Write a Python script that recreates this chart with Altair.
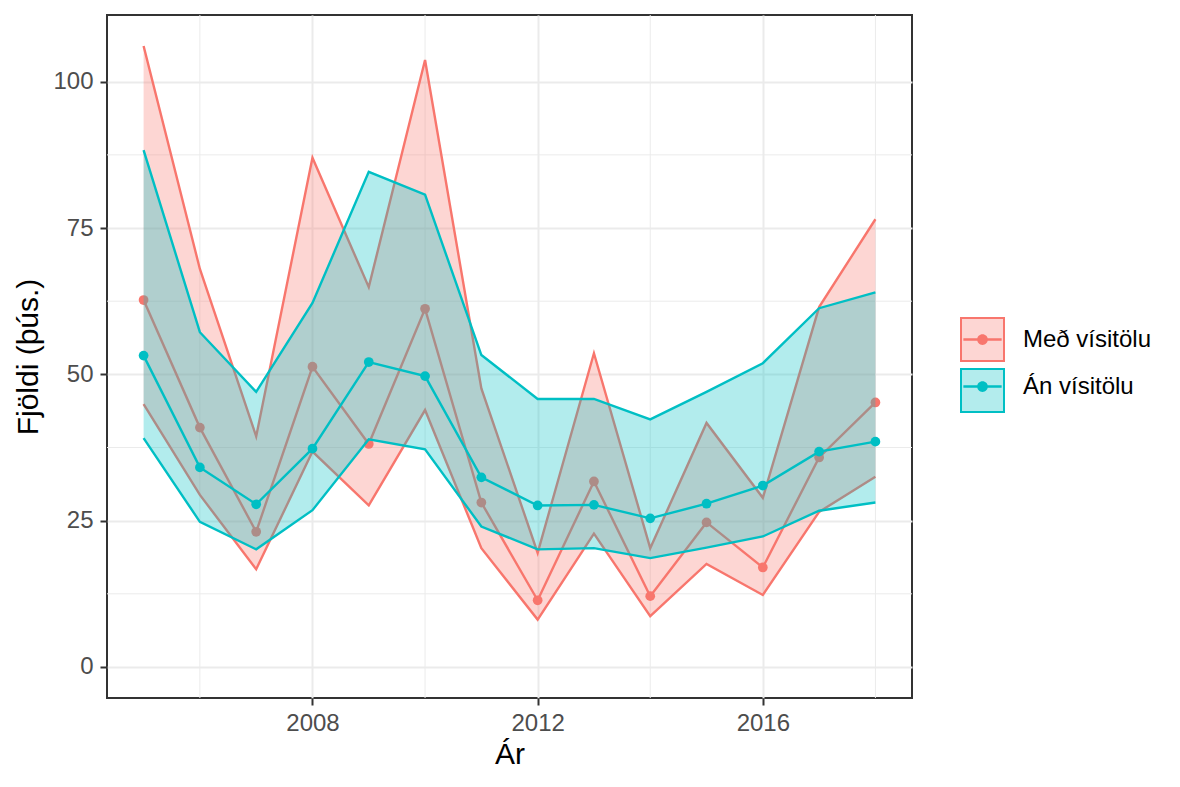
import altair as alt
import pandas as pd

# ---------------- data ----------------
years = list(range(2005, 2019))
groups = ["Með vísitölu", "Án vísitölu"]

med_upper = [106.1, 68.0, 39.4, 87.0, 64.9, 103.7, 47.6, 19.5, 53.6, 20.3, 41.7, 28.9, 61.5, 76.5]
med_mid = [62.7, 40.9, 23.1, 51.3, 38.1, 61.2, 28.1, 11.4, 31.7, 12.1, 24.7, 17.0, 35.8, 45.2]
med_lower = [44.9, 29.4, 16.7, 36.8, 27.6, 43.9, 20.3, 8.1, 22.8, 8.7, 17.6, 12.3, 26.5, 32.5]

an_upper = [88.3, 57.2, 47.0, 62.2, 84.6, 80.7, 53.3, 45.8, 45.8, 42.3, 47.0, 51.9, 61.3, 64.0]
an_mid = [53.2, 34.1, 27.8, 37.3, 52.1, 49.7, 32.4, 27.6, 27.7, 25.4, 27.9, 31.0, 36.8, 38.5]
an_lower = [39.1, 24.8, 20.1, 26.8, 38.9, 37.2, 24.0, 20.1, 20.3, 18.6, 20.4, 22.3, 26.7, 28.1]

x_major = [2008, 2012, 2016]
x_minor = [2006, 2010, 2014, 2018]
y_major = [0, 25, 50, 75, 100]
y_minor = [12.5, 37.5, 62.5, 87.5]

rows = []
for g, lo, mid, hi in [(groups[0], med_lower, med_mid, med_upper),
                       (groups[1], an_lower, an_mid, an_upper)]:
    for i, yr in enumerate(years):
        rows.append({"year": yr, "grp": g, "lo": lo[i], "mid": mid[i], "hi": hi[i]})
df = pd.DataFrame(rows)

# ---------------- styles ----------------
RED, TEAL = "#F8766D", "#00BFC4"
RED_L, TEAL_L = "#FDD6D3", "#B3ECED"
COLORS = {groups[0]: RED, groups[1]: TEAL}
FONT = "Liberation Sans"
GRID = "#EBEBEB"
LW = 2.4

xscale = alt.Scale(domain=[2004.35, 2018.65], nice=False, zero=False)
yscale = alt.Scale(domain=[-5.3, 111.4], nice=False, zero=False)
cscale = alt.Scale(range=[RED, TEAL])

xaxis = alt.Axis(values=x_major, format="d", labelPadding=6, titlePadding=4)
yaxis = alt.Axis(values=y_major, labelPadding=7, titlePadding=9)
XT = "Ár"
YT = "Fjöldi (þús.)"


def X(field):
    return alt.X(field, type="quantitative", scale=xscale, axis=xaxis, title=XT)


def Y(field):
    return alt.Y(field, type="quantitative", scale=yscale, axis=yaxis, title=YT)


legend_common = dict(
    orient="none", legendX=853, legendY=302, title=None, padding=0,
    symbolSize=1849, rowPadding=0, labelOffset=18, labelFontSize=24,
    labelFont=FONT, labelColor="black", symbolStrokeWidth=2, symbolOpacity=1,
)

# legend with line + dot (drawn on top); the two zero-length segments at the
# corners only give the symbol the same bounds as the key box
dot_path = ("M-1.047,-1.047L-1.047,-1.047M1.047,1.047L1.047,1.047 "
            "M-0.89,-0.055H0.89V0.055H-0.89Z "
            "M0.25,0A0.25,0.25 0 1 1 -0.25,0A0.25,0.25 0 1 1 0.25,0Z")
legend_b = alt.Legend(symbolType=dot_path, zindex=2, **legend_common)
# legend with the filled key box (below)
legend_a = alt.Legend(symbolType="square", labelExpr="''", zindex=1, **legend_common)

# ---------------- layers ----------------
minor_x = alt.Chart(pd.DataFrame({"v": x_minor})).mark_rule(color=GRID, strokeWidth=1).encode(x=X("v"))
minor_y = alt.Chart(pd.DataFrame({"v": y_minor})).mark_rule(color=GRID, strokeWidth=1).encode(y=Y("v"))

key_layer = alt.Chart(df).transform_filter("false").mark_point(
    shape="square", filled=True, strokeWidth=2, opacity=1
).encode(
    fill=alt.Fill("grp:N", scale=alt.Scale(domain=groups, range=[RED_L, TEAL_L]), legend=legend_a),
    stroke=alt.Stroke("grp:N", scale=alt.Scale(domain=groups, range=[RED, TEAL]), legend=legend_a),
)

layers = [minor_x, minor_y, key_layer]
for g in groups:
    base = alt.Chart(df).transform_filter(alt.datum.grp == g)
    area = base.mark_area(opacity=0.3, color=COLORS[g]).encode(x=X("year"), y=Y("lo"), y2="hi:Q")
    layers.append(area)
    for c in ["lo", "hi", "mid"]:
        layers.append(base.mark_line(strokeWidth=LW, color=COLORS[g]).encode(x=X("year"), y=Y(c)))
    pts = base.mark_point(filled=True, size=95, opacity=1).encode(
        x=X("year"), y=Y("mid"),
        color=alt.Color("grp:N", scale=cscale, legend=legend_b),
    )
    layers.append(pts)

chart = alt.layer(*layers).properties(
    width=805, height=683,
    autosize=alt.AutoSizeParams(type="none"),
    padding={"left": 99, "top": 7, "right": 250, "bottom": 80},
).configure(font=FONT).configure_view(
    stroke="#333333", strokeWidth=2
).configure_axis(
    labelFontSize=24, labelColor="#4D4D4D", labelFont=FONT,
    tickColor="#333333", tickWidth=2, tickSize=7, domain=False,
    grid=True, gridColor=GRID, gridWidth=2,
    titleFontSize=30, titleFontWeight="normal", titleColor="black", titleFont=FONT,
)

chart.save("out.html", embed_options={"renderer": "svg", "actions": False})
